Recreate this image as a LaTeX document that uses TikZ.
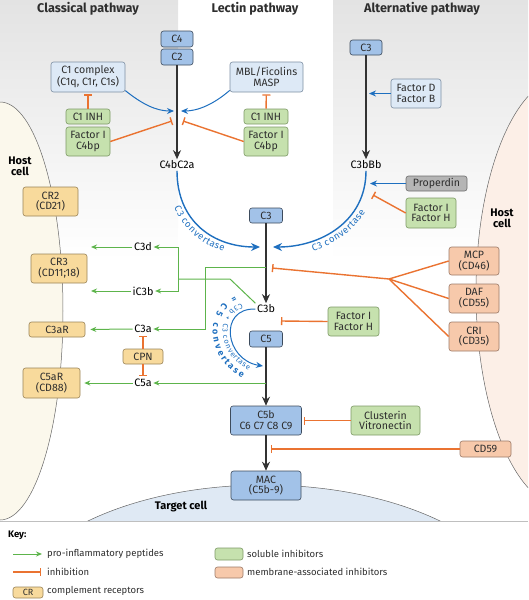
\documentclass[tikz,border=0pt]{standalone}
\usepackage{fontspec}
\setmainfont{Fira Sans}
\usetikzlibrary{arrows.meta}
\usetikzlibrary{decorations.text}
\definecolor{compBlue}{HTML}{A2C2E8}
\definecolor{compEdge}{HTML}{3D4B5C}
\definecolor{inputBlue}{HTML}{DDE9F6}
\definecolor{inputEdge}{HTML}{7D8FA3}
\definecolor{solGreen}{HTML}{C6E1AE}
\definecolor{solEdge}{HTML}{7D9A66}
\definecolor{recYellow}{HTML}{F8DA9C}
\definecolor{recEdge}{HTML}{9A8458}
\definecolor{memSalmon}{HTML}{F7C9AB}
\definecolor{memEdge}{HTML}{9C7A68}
\definecolor{propGray}{HTML}{B5B5B5}
\definecolor{propEdge}{HTML}{6E6E6E}
\definecolor{inhOrange}{HTML}{EA7331}
\definecolor{pepGreen}{HTML}{5DB44B}
\definecolor{flowBlue}{HTML}{1E6FBF}
\definecolor{flowBlack}{HTML}{333333}
\definecolor{textDark}{HTML}{2E2E2E}
\definecolor{hostCream}{HTML}{FBF8EC}
\definecolor{hostPink}{HTML}{FCEFE7}
\definecolor{targetBlue}{HTML}{DFE9F4}
\definecolor{columnGray}{HTML}{E3E3E3}
\tikzstyle{boxStyle} = [draw, rounded corners=2.5pt, inner sep=0pt, align=center, line width=0.6pt, font=\fontsize{10.6}{10.8}\selectfont, text=textDark]
\tikzstyle{compStyle} = [boxStyle, fill=compBlue, draw=compEdge]
\tikzstyle{inputStyle} = [boxStyle, fill=inputBlue, draw=inputEdge]
\tikzstyle{solubleStyle} = [boxStyle, fill=solGreen, draw=solEdge]
\tikzstyle{receptorStyle} = [boxStyle, fill=recYellow, draw=recEdge]
\tikzstyle{membraneStyle} = [boxStyle, fill=memSalmon, draw=memEdge]
\tikzstyle{properdinStyle} = [boxStyle, fill=propGray, draw=propEdge]
\tikzstyle{labelText} = [font=\fontsize{10.8}{11}\selectfont, text=black, inner sep=1.5pt]
\tikzstyle{titleText} = [font=\fontsize{12.6}{12.6}\selectfont\bfseries, text=textDark]
\tikzstyle{cellText} = [font=\fontsize{11}{11}\selectfont\bfseries, align=center, text=black]
\tikzstyle{keyText} = [font=\fontsize{9.5}{9.5}\selectfont, text=textDark, anchor=west, inner sep=0pt]
\tikzstyle{mainArrow} = [draw=flowBlack, line width=1.5pt, -{Stealth[length=9pt, width=8pt]}]
\tikzstyle{flowArrow} = [draw=flowBlue, line width=1pt, -{Stealth[length=7pt, width=6pt]}]
\tikzstyle{convArrow} = [draw=flowBlue, line width=1.4pt, -{Stealth[length=9pt, width=8pt]}]
\tikzstyle{pepLine} = [draw=pepGreen, line width=1pt]
\tikzstyle{pepArrow} = [pepLine, -{Stealth[length=6pt, width=5pt]}]
\tikzstyle{inhibitLine} = [draw=inhOrange, line width=1.4pt]
\tikzstyle{inhibitArrow} = [inhibitLine, -{Bar[width=8pt]}]
\tikzstyle{cellWall} = [draw=black!60, line width=0.5pt]
\newcommand{\pathBox}[6]{\node [#1, minimum width=#4pt, minimum height=#5pt] (#2) at (#3) {#6};}
\newcommand{\inhibit}[2]{\draw [inhibitArrow] (#1) -- (#2);}
\newcommand{\peptide}[2]{\draw [pepArrow] (#1) -- (#2);}
\begin{document}
\begin{tikzpicture}[x=1pt, y=-1pt]
  \useasboundingbox (0,0) rectangle (528,600);
  % pathway columns and cells
  \shade [top color=columnGray, bottom color=white] (0,0) rectangle (178,260);
  \shade [top color=columnGray, bottom color=white] (333,0) rectangle (528,260);
  \begin{scope}
    \clip (0,0) rectangle (528,521);
    \filldraw [cellWall, fill=hostCream] (0,311) ellipse [x radius=63, y radius=209];
    \filldraw [cellWall, fill=hostPink] (565,292) ellipse [x radius=89, y radius=215];
    \filldraw [cellWall, fill=targetBlue] (264,620) ellipse [x radius=259, y radius=135];
  \end{scope}
  \draw [draw=black!25, line width=0.5pt] (0,521) -- (528,521);

  \node [titleText, anchor=base] (titleClassical) at (88,12) {Classical pathway};
  \node [titleText, anchor=base] (titleLectin) at (255,12) {Lectin pathway};
  \node [titleText, anchor=base] (titleAlternative) at (422,12) {Alternative pathway};
  \node [cellText] (hostLeft) at (20,166) {Host\\cell};
  \node [cellText] (hostRight) at (502,218) {Host\\cell};
  \node [cellText] (targetLabel) at (181,507) {Target cell};

  % classical and lectin
  \pathBox{compStyle}{c4}{177,39}{32}{16}{C4}
  \pathBox{compStyle}{c2}{177,57}{32}{16}{C2}
  \node [labelText] (c4bc2a) at (177,165) {C4bC2a};
  \pathBox{inputStyle}{c1Complex}{88,77}{74}{30}{C1 complex\\(C1q, C1r, C1s)}
  \pathBox{solubleStyle}{c1InhLeft}{88,116.5}{44}{15}{C1 INH}
  \pathBox{solubleStyle}{factorLeft}{88,141.5}{44}{29}{Factor I\\C4bp}
  \pathBox{inputStyle}{mbl}{266.5,77}{73}{30}{MBL/Ficolins\\MASP}
  \pathBox{solubleStyle}{c1InhRight}{266,116.5}{44}{15}{C1 INH}
  \pathBox{solubleStyle}{factorRight}{266,141.5}{44}{29}{Factor I\\C4bp}

  % alternative
  \pathBox{compStyle}{c3Alt}{366,47.5}{32}{15}{C3}
  \pathBox{inputStyle}{factorDB}{416,93.5}{50}{29}{Factor D\\Factor B}
  \node [labelText] (c3bbb) at (366,165) {C3bBb};
  \pathBox{properdinStyle}{properdin}{436.5,183.5}{61}{15}{Properdin}
  \pathBox{solubleStyle}{factorIHTop}{431,213}{50}{30}{Factor I\\Factor H}

  % terminal pathway
  \pathBox{compStyle}{c3}{266,215.5}{33}{15}{C3}
  \node [labelText] (c3b) at (266,309) {C3b};
  \pathBox{compStyle}{c5}{266,339}{33}{16}{C5}
  \pathBox{compStyle}{c5b}{266,420.5}{71}{29}{C5b\\C6 C7 C8 C9}
  \pathBox{compStyle}{mac}{266,485.5}{70}{29}{MAC\\(C5b-9)}
  \pathBox{solubleStyle}{factorIHLow}{353.5,321.5}{51}{29}{Factor I\\Factor H}
  \pathBox{membraneStyle}{mcp}{474,261}{50}{28}{MCP\\(CD46)}
  \pathBox{membraneStyle}{daf}{474,298.5}{50}{29}{DAF\\(CD55)}
  \pathBox{membraneStyle}{cri}{474,336.5}{50}{29}{CRI\\(CD35)}
  \pathBox{solubleStyle}{clusterin}{385.5,420.5}{69}{29}{Clusterin\\Vitronectin}
  \pathBox{membraneStyle}{cd59}{485.5,449}{51}{16}{CD59}

  % receptors and peptides
  \pathBox{receptorStyle}{cr2}{50.5,201.5}{55}{29}{CR2\\(CD21)}
  \pathBox{receptorStyle}{cr3}{59,268.5}{56}{29}{CR3\\(CD11;18)}
  \pathBox{receptorStyle}{c3aR}{57,329.5}{56}{15}{C3aR}
  \pathBox{receptorStyle}{c5aR}{51.5,383}{57}{30}{C5aR\\(CD88)}
  \pathBox{receptorStyle}{cpn}{143,356.5}{40}{15}{CPN}
  \node [labelText] (c3d) at (143,247) {C3d};
  \node [labelText] (ic3b) at (143,291) {iC3b};
  \node [labelText] (c3a) at (143,329) {C3a};
  \node [labelText] (c5a) at (143,383) {C5a};

  \coordinate (lectinLeft) at (174,111);
  \coordinate (lectinRight) at (181,111);
  \coordinate (barLeft) at (172,121);
  \coordinate (barRight) at (183,121);
  \coordinate (altFactor) at (369,93.5);
  \coordinate (altProperdin) at (370,183.5);
  \coordinate (altBar) at (373,195);
  \coordinate (convLeft) at (260,247);
  \coordinate (convRight) at (273,247);
  \coordinate (memJoin) at (389,279);
  \coordinate (barC3) at (272,268);
  \coordinate (barC3b) at (281,321);
  \coordinate (barCd59) at (271,449);
  \coordinate (c5Conv) at (263,366);
  \coordinate (splitC3b) at (178,279);
  \coordinate (bendC3b) at (230,279);
  \coordinate (tapC3a) at (266,267);
  \coordinate (bendC3a) at (205,267);
  \coordinate (tapC5a) at (266,383);
  \coordinate (tipC3d) at (91,247);
  \coordinate (tipIC3b) at (91,291);

  % cascade
  \draw [mainArrow] (c2) -- (c4bc2a);
  \draw [mainArrow] (c3Alt) -- (c3bbb);
  \draw [mainArrow] (c3) -- (c3b);
  \draw [mainArrow] (c5) -- (c5b);
  \draw [mainArrow] (c5b) -- (mac);
  \draw [flowArrow] (c1Complex.-20) .. controls (142,104) and (156,111) .. (lectinLeft);
  \draw [flowArrow] (mbl.200) .. controls (214,104) and (198,111) .. (lectinRight);
  \draw [flowArrow] (factorDB) -- (altFactor);
  \draw [flowArrow] (properdin) -- (altProperdin);

  % convertases
  \draw [convArrow] (c4bc2a.south) .. controls (177,222) and (214,247) .. (convLeft);
  \draw [convArrow] (c3bbb.south) .. controls (366,222) and (320,247) .. (convRight);
  \path [decorate, decoration={text along path, text align=center, raise=-10pt,
    text={|\fontsize{9.5}{9.5}\selectfont\color{flowBlue}|C3 convertase}}]
    (c4bc2a.south) .. controls (177,222) and (214,247) .. (convLeft);
  \path [decorate, decoration={text along path, text align=center, raise=-10pt,
    text={|\fontsize{9.5}{9.5}\selectfont\color{flowBlue}|C3 convertase}}]
    (convRight) .. controls (320,247) and (366,222) .. (c3bbb.south);
  \draw [flowArrow] (c3b.west) .. controls (218,308) and (225,360) .. (c5Conv);
  \path [decorate, decoration={text along path, text align=center, raise=-8pt,
    text={|\fontsize{7.5}{7.5}\selectfont\color{flowBlue}|C3b + C3 convertase}}]
    (c3b.west) .. controls (218,308) and (225,360) .. (c5Conv);
  \path [decorate, decoration={text along path, text align=center, raise=-18pt,
    text={|\fontsize{9}{9}\selectfont\bfseries\color{flowBlue}|= C5 convertase}}]
    (c3b.west) .. controls (218,308) and (225,360) .. (c5Conv);

  % inhibition
  \draw [inhibitArrow, shorten >=2pt] (c1InhLeft) -- (c1Complex);
  \draw [inhibitArrow, shorten >=2pt] (c1InhRight) -- (mbl);
  \inhibit{factorLeft.east}{barLeft}
  \inhibit{factorRight.west}{barRight}
  \inhibit{factorIHTop.west}{altBar}
  \draw [inhibitLine] (mcp.west) -- (memJoin);
  \draw [inhibitLine] (daf.west) -- (memJoin);
  \draw [inhibitLine] (cri.west) -- (memJoin);
  \inhibit{memJoin}{barC3}
  \inhibit{factorIHLow.west}{barC3b}
  \draw [inhibitArrow, shorten >=2pt] (clusterin) -- (c5b);
  \inhibit{cd59.west}{barCd59}
  \draw [inhibitArrow, shorten >=1pt] (cpn) -- (c3a);
  \draw [inhibitArrow, shorten >=1pt] (cpn) -- (c5a);

  % peptides
  \draw [pepArrow] (tapC3a) -- (bendC3a) |- (c3a.east);
  \draw [pepLine] (c3b.north west) -- (bendC3b) -- (splitC3b);
  \draw [pepArrow] (splitC3b) |- (c3d.east);
  \draw [pepArrow] (splitC3b) |- (ic3b.east);
  \peptide{tapC5a}{c5a.east}
  \peptide{c3d.west}{tipC3d}
  \peptide{ic3b.west}{tipIC3b}
  \draw [pepArrow, shorten >=5pt] (c3a.west) -- (c3aR.east);
  \draw [pepArrow, shorten >=4pt] (c5a.west) -- (c5aR.east);

  % key
  \node [font=\fontsize{9.5}{9.5}\selectfont\bfseries, anchor=west, inner sep=0pt] (keyTitle) at (8,535) {Key:};
  \coordinate (keyPepStart) at (13,554);
  \coordinate (keyPepEnd) at (42,554);
  \draw [pepArrow] (keyPepStart) -- (keyPepEnd);
  \node [keyText] (keyPep) at (47,554) {pro-inflammatory peptides};
  \coordinate (keyInhStart) at (13,572);
  \coordinate (keyInhEnd) at (41,572);
  \draw [inhibitArrow] (keyInhStart) -- (keyInhEnd);
  \node [keyText] (keyInh) at (47,572) {inhibition};
  \pathBox{receptorStyle}{keyCR}{28,592.5}{30}{11}{\fontsize{9}{9}\selectfont CR}
  \node [keyText] (keyRec) at (47,591) {complement receptors};
  \pathBox{solubleStyle}{keySol}{229,554}{28}{12}{}
  \node [keyText] (keySolText) at (247,554) {soluble inhibitors};
  \pathBox{membraneStyle}{keyMem}{229,572.5}{28}{11}{}
  \node [keyText] (keyMemText) at (247,572) {membrane-associated inhibitors};
\end{tikzpicture}
\end{document}
